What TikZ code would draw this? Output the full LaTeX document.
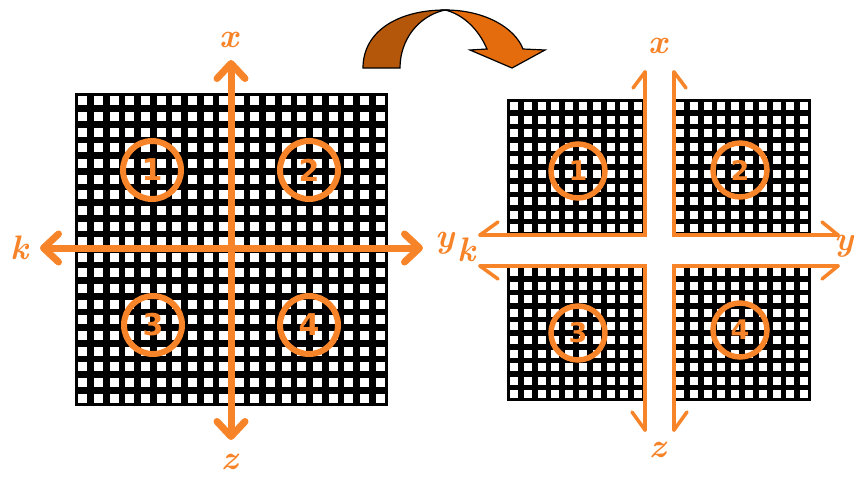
\documentclass[tikz,border=0pt]{standalone}
\usepackage{fontspec}
\newfontfamily\digitfont{DejaVu Sans}
\usetikzlibrary{arrows.meta}
\definecolor{axisorange}{RGB}{247,132,41}
\definecolor{arrowdark}{RGB}{180,87,10}
\definecolor{arrowlight}{RGB}{228,108,12}
\begin{document}
\begin{tikzpicture}[x=1pt,y=-1pt,
    axis/.style={axisorange,line width=7pt,line cap=round,
      {Straight Barb[length=15pt,width=28pt,round]}-{Straight Barb[length=15pt,width=28pt,round]}},
    edge/.style={axisorange,line width=3.5pt,line cap=round},
    ring/.style={draw=axisorange,line width=6pt,circle,minimum size=58pt,inner sep=0pt,
      text=axisorange,font=\digitfont\bfseries\fontsize{30}{30}\selectfont},
    smallring/.style={ring,line width=5.5pt,minimum size=54pt,
      font=\digitfont\bfseries\fontsize{27}{27}\selectfont},
    axlabel/.style={text=axisorange,inner sep=1pt,font=\bfseries\itshape\fontsize{34}{34}\selectfont}]
    \useasboundingbox (0,0) rectangle (856,482);
    % left grid
    \fill (75,93) rectangle (388,406);
    \foreach \i in {0,...,19}
      \foreach \j in {0,...,19}
        \fill[white] ({78.3+15.65*\i},{96.3+15.65*\j}) rectangle ++(9,9);
    % left axes
    \coordinate (xTip) at (231,60);
    \coordinate (zTip) at (231,440);
    \coordinate (kTip) at (40,248);
    \coordinate (yTip) at (423,248);
    \draw[axis] (kTip) -- (yTip);
    \draw[axis] (xTip) -- (zTip);
    \node[axlabel] (xLeft) at (229,40) {x};
    \node[axlabel] (zLeft) at (230,462) {z};
    \node[axlabel] (kLeft) at (20,248) {k};
    \node[axlabel] (yLeft) at (445,243) {y};
    \node[ring] (one) at (152,170) {1};
    \node[ring] (two) at (309,170) {2};
    \node[ring] (three) at (153,325) {3};
    \node[ring] (four) at (309,325) {4};
    % curved arrow
    \filldraw[fill=arrowdark,draw=black,line width=1.2pt] (363,68)
      .. controls (363,30) and (400,10) .. (445,10)
      .. controls (418,16) and (400,40) .. (400,68) -- cycle;
    \filldraw[fill=arrowlight,draw=black,line width=1.2pt] (445,10)
      .. controls (485,10) and (515,28) .. (523,49) -- (545,50) -- (512,68)
      -- (470,50) -- (487,49) .. controls (478,28) and (462,14) .. (445,10) -- cycle;
    % right grid, four quarters
    \foreach \qx/\qy in {507/99,673/99,507/265,673/265} {
      \fill (\qx,\qy) rectangle ++(138,136);
      \foreach \i in {0,...,9}
        \foreach \j in {0,...,9}
          \fill[white] ({\qx+3+13.8*\i},{\qy+3+13.6*\j}) rectangle ++(8,8);
    }
    % split axes
    \coordinate (ulTop) at (645,72);
    \coordinate (ulCorner) at (645,235);
    \coordinate (ulLeft) at (480,235);
    \coordinate (urTop) at (674,72);
    \coordinate (urCorner) at (674,235);
    \coordinate (urRight) at (838,235);
    \coordinate (llBot) at (645,430);
    \coordinate (llCorner) at (645,266);
    \coordinate (llLeft) at (480,266);
    \coordinate (lrBot) at (674,430);
    \coordinate (lrCorner) at (674,266);
    \coordinate (lrRight) at (838,266);
    \draw[edge] (ulTop) -- (ulCorner) -- (ulLeft);
    \draw[edge] (urTop) -- (urCorner) -- (urRight);
    \draw[edge] (llBot) -- (llCorner) -- (llLeft);
    \draw[edge] (lrBot) -- (lrCorner) -- (lrRight);
    \draw[edge] (ulTop) -- ++(-12,16);
    \draw[edge] (ulLeft) -- ++(18,-13);
    \draw[edge] (urTop) -- ++(12,16);
    \draw[edge] (urRight) -- ++(-16,-13);
    \draw[edge] (llBot) -- ++(-13,-18);
    \draw[edge] (llLeft) -- ++(18,13);
    \draw[edge] (lrBot) -- ++(13,-18);
    \draw[edge] (lrRight) -- ++(-16,13);
    \node[axlabel] (xRight) at (658,46) {x};
    \node[axlabel] (zRight) at (658,450) {z};
    \node[axlabel] (kRight) at (467,250) {k};
    \node[axlabel] (yRight) at (844,246) {y};
    \node[smallring] (oneR) at (578,171) {1};
    \node[smallring] (twoR) at (740,170) {2};
    \node[smallring] (threeR) at (578,333) {3};
    \node[smallring] (fourR) at (740,330) {4};
\end{tikzpicture}
\end{document}
